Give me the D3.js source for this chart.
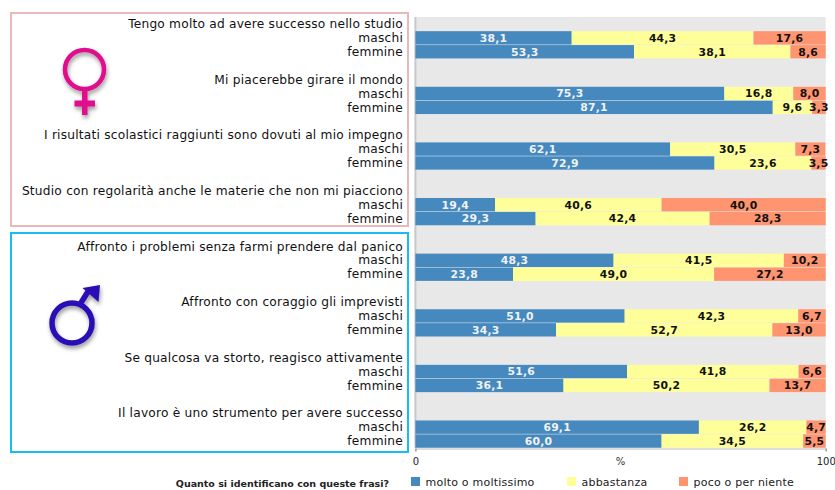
<!DOCTYPE html>
<html><head><meta charset="utf-8">
<script src="https://cdn.jsdelivr.net/npm/d3@7"></script>
<style>html,body{margin:0;background:#fff}svg{display:block}text{font-family:"DejaVu Sans",sans-serif}</style>
</head><body><div id="c"></div>
<script>
const statements=["Tengo molto ad avere successo nello studio","Mi piacerebbe girare il mondo","I risultati scolastici raggiunti sono dovuti al mio impegno","Studio con regolarità anche le materie che non mi piacciono","Affronto i problemi senza farmi prendere dal panico","Affronto con coraggio gli imprevisti","Se qualcosa va storto, reagisco attivamente","Il lavoro è uno strumento per avere successo"];
const genders=["maschi","femmine"];
const seriesNames=["molto o moltissimo","abbastanza","poco o per niente"];
const colors=["#4589BF","#FFFF99","#FF9470"];
const textColors=["#f2f2f2","#111","#111"];
const maschiMolto=[38.1,75.3,62.1,19.4,48.3,51.0,51.6,69.1];
const maschiAbb=[44.3,16.8,30.5,40.6,41.5,42.3,41.8,26.2];
const maschiPoco=[17.6,8.0,7.3,40.0,10.2,6.7,6.6,4.7];
const femmineMolto=[53.3,87.1,72.9,29.3,23.8,34.3,36.1,60.0];
const femmineAbb=[38.1,9.6,23.6,42.4,49.0,52.7,50.2,34.5];
const femminePoco=[8.6,3.3,3.5,28.3,27.2,13.0,13.7,5.5];
const xTicks=[0,100];
const axisTitle="%";
const legendTitle="Quanto si identificano con queste frasi?";

const W=835,H=490;
const svg=d3.select("#c").append("svg").attr("width",W).attr("height",H);
const defs=svg.append("defs");
const f=defs.append("filter").attr("id","sh").attr("x","-30%").attr("y","-30%").attr("width","170%").attr("height","170%");
f.append("feDropShadow").attr("dx",1).attr("dy",3).attr("stdDeviation",2.2).attr("flood-color","#000").attr("flood-opacity",0.4);

const plotL=415.4,plotR=825.7,plotT=17,plotB=448;
const rowKeys=d3.range(31);
const y=d3.scaleBand().domain(rowKeys).range([plotT,plotB]).paddingInner(0.04).paddingOuter(0.02);
const x=d3.scaleLinear().domain([0,100]).range([plotL,plotR]);
const comma=v=>v.toFixed(1).replace(".",",");

// frames
svg.append("rect").attr("x",11).attr("y",13).attr("width",397).attr("height",213).attr("fill","#fff").attr("stroke","#E8B9B9").attr("stroke-width",2);
svg.append("rect").attr("x",11).attr("y",233).attr("width",397).attr("height",219).attr("fill","#fff").attr("stroke","#14BDF2").attr("stroke-width",2);

// plot background
svg.append("rect").attr("x",plotL).attr("y",plotT).attr("width",plotR-plotL).attr("height",plotB-plotT).attr("fill","#E8E8E8");
svg.append("line").attr("x1",plotL).attr("x2",plotL).attr("y1",plotT).attr("y2",plotB).attr("stroke","#c8c8c8").attr("stroke-width",2);

// row labels
const lab=svg.append("g").attr("font-size",12.2).attr("fill","#111").attr("text-anchor","end").attr("letter-spacing",0.22);
statements.forEach((s,i)=>{
  const base=i*4;
  [s,...genders].forEach((t,k)=>{
    lab.append("text").attr("x",403).attr("y",y(base+k)+y.bandwidth()/2-0.2).attr("dy","0.36em").text(t);
  });
});

// bars
const rows=[];
statements.forEach((s,i)=>{
  rows.push({row:i*4+1,vals:[maschiMolto[i],maschiAbb[i],maschiPoco[i]]});
  rows.push({row:i*4+2,vals:[femmineMolto[i],femmineAbb[i],femminePoco[i]]});
});
const bars=svg.append("g");
rows.forEach(r=>{
  let acc=0;
  r.vals.forEach((v,k)=>{
    const a=Math.min(acc,100),b=Math.min(acc+v,100);acc+=v;
    bars.append("rect").attr("x",x(a)).attr("y",y(r.row)).attr("width",x(b)-x(a)).attr("height",y.bandwidth()).attr("fill",colors[k]);
  });
  acc=0;
  r.vals.forEach((v,k)=>{
    const a=Math.min(acc,100),b=Math.min(acc+v,100);acc+=v;
    bars.append("text").attr("x",(x(a)+x(b))/2).attr("y",y(r.row)+y.bandwidth()/2).attr("dy","0.36em")
      .attr("text-anchor","middle").attr("font-size",10.8).attr("font-weight","bold").attr("fill",textColors[k]).attr("letter-spacing",0.2).text(comma(v));
  });
});

// axis
const ax=svg.append("g").attr("transform",`translate(0,${plotB+0.5})`).call(d3.axisBottom(x).tickValues(xTicks).tickSize(3));
ax.select(".domain").attr("stroke","#bbb");
ax.selectAll(".tick line").attr("stroke","#888");
ax.selectAll("text").attr("font-size",10).attr("fill","#222").attr("y",9).attr("font-family","DejaVu Sans");
svg.append("text").attr("x",x(50)).attr("y",465).attr("text-anchor","middle").attr("font-size",10).attr("fill","#333").text(axisTitle);

// legend
svg.append("text").attr("x",389).attr("y",487).attr("text-anchor","end").attr("font-size",9.5).attr("font-weight","bold").attr("fill","#222").text(legendTitle);
const legX=[411,567,679];
seriesNames.forEach((n,i)=>{
  svg.append("rect").attr("x",legX[i]).attr("y",477).attr("width",9).attr("height",9).attr("fill",colors[i]);
  svg.append("text").attr("x",legX[i]+14.5).attr("y",486).attr("font-size",11).attr("fill","#222").attr("letter-spacing",0.22).text(n);
});

// female symbol
const fem=svg.append("g").attr("filter","url(#sh)");
fem.append("circle").attr("cx",84.5).attr("cy",69.5).attr("r",19.5).attr("fill","none").attr("stroke","#E0088C").attr("stroke-width",4.5);
fem.append("rect").attr("x",82).attr("y",90).attr("width",5.5).attr("height",25).attr("fill","#E0088C");
fem.append("rect").attr("x",74.5).attr("y",100.5).attr("width",20.5).attr("height",6).attr("fill","#E0088C");

// male symbol
const mal=svg.append("g").attr("filter","url(#sh)");
mal.append("circle").attr("cx",72).attr("cy",323).attr("r",20).attr("fill","none").attr("stroke","#2A0DB5").attr("stroke-width",5.5);
mal.append("path").attr("d","M80.5,303.5 L89,290").attr("stroke","#2A0DB5").attr("stroke-width",5.5).attr("fill","none");
mal.append("path").attr("d","M82.5,288 L100,285 L98.5,302 Z").attr("fill","#2A0DB5");
</script></body></html>
